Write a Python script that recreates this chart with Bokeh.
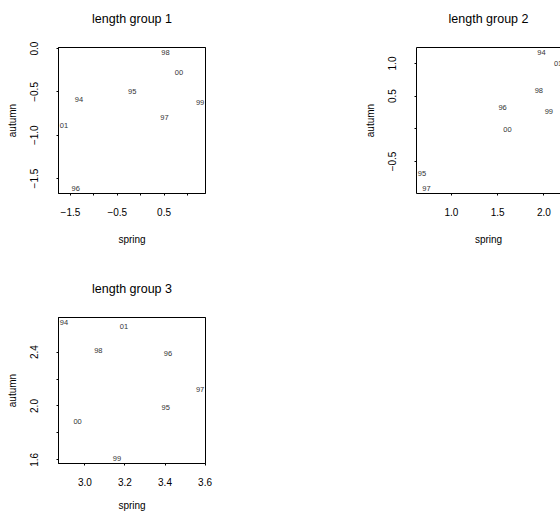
from bokeh.plotting import figure
from bokeh.layouts import column, row
from bokeh.models import LinearAxis, FixedTicker, ColumnDataSource
from bokeh.core.properties import value
from bokeh.embed import file_html
from bokeh.resources import INLINE

# ---- data ----
years = ["94", "95", "96", "97", "98", "99", "00", "01"]

spring1 = [-1.32, -0.18, -1.39, 0.51, 0.53, 1.27, 0.82, -1.64]
autumn1 = [-0.59, -0.50, -1.61, -0.80, -0.05, -0.62, -0.28, -0.89]

spring2 = [1.975, 0.68, 1.553, 0.729, 1.946, 2.054, 1.607, 2.154]
autumn2 = [1.162, -0.684, 0.326, -0.907, 0.593, 0.271, -0.01, 1.006]

spring3 = [2.895, 3.403, 3.415, 3.575, 3.067, 3.160, 2.963, 3.195]
autumn3 = [2.617, 1.988, 2.390, 2.126, 2.410, 1.613, 1.887, 2.590]

titles = ["length group 1", "length group 2", "length group 3"]

x_ticks1 = [-1.5, -1.0, -0.5, 0.0, 0.5, 1.0]
x_labels1 = {-1.5: "\u22121.5", -1.0: "", -0.5: "\u22120.5", 0.0: "", 0.5: "0.5", 1.0: ""}
y_ticks1 = [-1.5, -1.0, -0.5, 0.0]
y_labels1 = {-1.5: "\u22121.5", -1.0: "\u22121.0", -0.5: "\u22120.5", 0.0: "0.0"}

x_ticks2 = [1.0, 1.5, 2.0]
x_labels2 = {1.0: "1.0", 1.5: "1.5", 2.0: "2.0"}
y_ticks2 = [-0.5, 0.0, 0.5, 1.0]
y_labels2 = {-0.5: "\u22120.5", 0.0: "", 0.5: "0.5", 1.0: "1.0"}

x_ticks3 = [3.0, 3.2, 3.4, 3.6]
x_labels3 = {3.0: "3.0", 3.2: "3.2", 3.4: "3.4", 3.6: "3.6"}
y_ticks3 = [1.6, 1.8, 2.0, 2.2, 2.4]
y_labels3 = {1.6: "1.6", 1.8: "", 2.0: "2.0", 2.2: "", 2.4: "2.4"}

FONT = "Liberation Sans"
FULL_FRAME_W = 147


def ext(vals):
    lo, hi = min(vals), max(vals)
    d = (hi - lo) * 0.04
    return lo - d, hi + d


def panel(xs, ys, title, xt, xl, yt, yl, w, h, bl, br, bt, bb,
          clip_right=False, xlab_standoff=15):
    x0, x1 = ext(xs)
    y0, y1 = ext(ys)
    frame_w = w - bl - br
    if clip_right:
        x1 = x0 + (x1 - x0) * frame_w / FULL_FRAME_W
    p = figure(width=w, height=h, x_range=(x0, x1), y_range=(y0, y1),
               output_backend="svg", toolbar_location=None,
               min_border_left=bl, min_border_right=br,
               min_border_top=bt, min_border_bottom=bb,
               background_fill_color="white", border_fill_color="white")
    p.grid.visible = False

    for ax, ticks, labels, lab in ((p.xaxis[0], xt, xl, "spring"),
                                    (p.yaxis[0], yt, yl, "autumn")):
        ax.ticker = FixedTicker(ticks=ticks)
        ax.major_label_overrides = labels
        ax.axis_label = lab
        ax.axis_label_text_font = FONT
        ax.axis_label_text_font_size = "10px"
        ax.axis_label_text_font_style = "normal"
        ax.axis_label_text_color = "black"
        ax.major_label_text_font = FONT
        ax.major_label_text_font_size = "10px"
        ax.major_label_text_color = "black"
        ax.major_tick_in = 0
        ax.major_tick_out = 2
        ax.major_tick_line_color = "black"
        ax.minor_tick_line_color = None
        ax.axis_line_color = "black"
        ax.axis_line_width = 1

    p.xaxis[0].major_label_standoff = 12
    p.xaxis[0].axis_label_standoff = xlab_standoff
    p.yaxis[0].major_label_standoff = 18
    p.yaxis[0].axis_label_standoff = 10
    p.yaxis[0].major_label_orientation = "parallel"

    # panel title as the label of a tick-less top axis (also draws the top border)
    top = LinearAxis(ticker=FixedTicker(ticks=[]), major_tick_out=0,
                     major_tick_in=0, major_label_standoff=0,
                     minor_tick_line_color=None,
                     axis_line_color="black",
                     axis_label=title, axis_label_standoff=22,
                     axis_label_text_font=FONT,
                     axis_label_text_font_size="12.5px",
                     axis_label_text_font_style="normal",
                     axis_label_text_color="black")
    p.add_layout(top, "above")

    if clip_right:
        p.outline_line_color = None
    else:
        p.outline_line_color = "black"
        p.outline_line_width = 1
        p.outline_line_alpha = 1

    src = ColumnDataSource(dict(x=xs, y=ys, t=years))
    p.text(x="x", y="y", text="t", source=src, text_font=value(FONT),
           text_font_size="7.5px", text_align="center",
           text_baseline="middle", text_color="#333333")
    return p


p1 = panel(spring1, autumn1, titles[0], x_ticks1, x_labels1, y_ticks1, y_labels1,
           280, 256, 58, 75, 47, 63)
p2 = panel(spring2, autumn2, titles[1], x_ticks2, x_labels2, y_ticks2, y_labels2,
           280, 256, 136, 0, 47, 63, clip_right=True)
p3 = panel(spring3, autumn3, titles[2], x_ticks3, x_labels3, y_ticks3, y_labels3,
           280, 257, 58, 75, 61, 50, xlab_standoff=11)

layout = column(row(p1, p2, spacing=0), p3, spacing=0)

open("out.html", "w").write(file_html(layout, INLINE))
